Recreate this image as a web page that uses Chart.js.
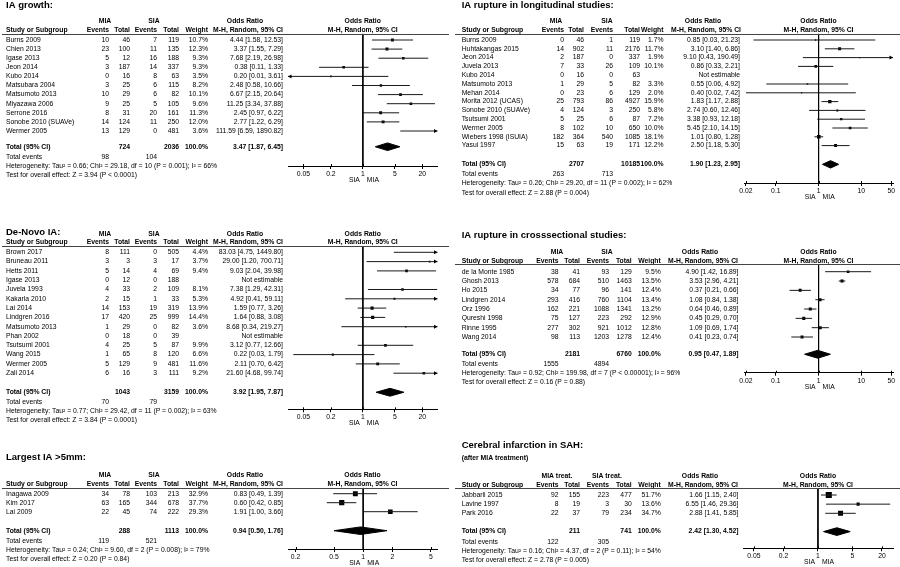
<!DOCTYPE html>
<html>
<head>
<meta charset="utf-8">
<script src="https://cdn.jsdelivr.net/npm/chart.js@4.4.1/dist/chart.umd.min.js"></script>
<style>
  html, body { margin: 0; padding: 0; background: #fff; }
  #wrap { position: relative; width: 900px; height: 567px; overflow: hidden; }
  #wrap canvas { position: absolute; left: 0; top: 0; }
</style>
</head>
<body>
<div id="wrap">
  <canvas id="growth" width="900" height="567"></canvas>
  <canvas id="longi" width="900" height="567"></canvas>
  <canvas id="denovo" width="900" height="567"></canvas>
  <canvas id="cross" width="900" height="567"></canvas>
  <canvas id="largest" width="900" height="567"></canvas>
  <canvas id="infarct" width="900" height="567"></canvas>
</div>
<script>
const FONT = "'Liberation Sans', Arial, Helvetica, sans-serif";

// axis ticks
const ticksWide = [0.05, 0.2, 1, 5, 20];
const ticksLong = [0.02, 0.1, 1, 10, 50];
const ticksNarrow = [0.2, 0.5, 1, 2, 5];

// IA growth
const growthStudies = ['Burns 2009', 'Chien 2013', 'Igase 2013', 'Jeon 2014', 'Kubo 2014', 'Matsubara 2004', 'Matsumoto 2013', 'Miyazawa 2006', 'Serrone 2016', 'Sonobe 2010 (SUAVe)', 'Wermer 2005'];
const growthMiaEvents = [10, 23, 5, 3, 0, 3, 10, 9, 8, 14, 13];
const growthMiaTotal = [46, 100, 12, 187, 16, 25, 29, 25, 31, 124, 129];
const growthSiaEvents = [7, 11, 16, 14, 8, 6, 6, 5, 20, 11, 0];
const growthSiaTotal = [119, 135, 188, 337, 63, 115, 82, 105, 161, 250, 481];
const growthWeight = [10.7, 12.3, 9.3, 9.3, 3.5, 8.2, 10.1, 9.6, 11.3, 12.0, 3.6];
const growthOR = [4.44, 3.37, 7.68, 0.38, 0.20, 2.48, 6.67, 11.25, 2.45, 2.77, 111.59];
const growthLow = [1.58, 1.55, 2.19, 0.11, 0.01, 0.58, 2.15, 3.34, 0.97, 1.22, 6.59];
const growthHigh = [12.53, 7.29, 26.98, 1.33, 3.61, 10.66, 20.64, 37.88, 6.22, 6.29, 1890.82];
const growthPooled = [3.47, 1.87, 6.45];
const growthSums = [724, 2036, 98, 104];
const growthHet = 'Heterogeneity: Tau² = 0.66; Chi² = 29.18, df = 10 (P = 0.001); I² = 66%';
const growthTest = 'Test for overall effect: Z = 3.94 (P < 0.0001)';

// IA rupture, longitudinal
const longiStudies = ['Burns 2009', 'Huhtakangas 2015', 'Jeon 2014', 'Juvela 2013', 'Kubo 2014', 'Matsumoto 2013', 'Mehan 2014', 'Morita 2012 (UCAS)', 'Sonobe 2010 (SUAVe)', 'Tsutsumi 2001', 'Wermer 2005', 'Wiebers 1998 (ISUIA)', 'Yasui 1997'];
const longiMiaEvents = [0, 14, 2, 7, 0, 1, 0, 25, 4, 5, 8, 182, 15];
const longiMiaTotal = [46, 902, 187, 33, 16, 29, 23, 793, 124, 25, 102, 364, 63];
const longiSiaEvents = [1, 11, 0, 26, 0, 5, 6, 86, 3, 6, 10, 540, 19];
const longiSiaTotal = [119, 2176, 337, 109, 63, 82, 129, 4927, 250, 87, 650, 1085, 171];
const longiWeight = [1.7, 11.7, 1.9, 10.1, null, 3.3, 2.0, 15.9, 5.8, 7.2, 10.0, 18.1, 12.2];
const longiOR = [0.85, 3.10, 9.10, 0.86, null, 0.55, 0.40, 1.83, 2.74, 3.38, 5.45, 1.01, 2.50];
const longiLow = [0.03, 1.40, 0.43, 0.33, null, 0.06, 0.02, 1.17, 0.60, 0.93, 2.10, 0.80, 1.18];
const longiHigh = [21.23, 6.86, 190.49, 2.21, null, 4.92, 7.42, 2.88, 12.46, 12.18, 14.15, 1.28, 5.30];
const longiPooled = [1.90, 1.23, 2.95];
const longiSums = [2707, 10185, 263, 713];
const longiHet = 'Heterogeneity: Tau² = 0.26; Chi² = 29.20, df = 11 (P = 0.002); I² = 62%';
const longiTest = 'Test for overall effect: Z = 2.88 (P = 0.004)';

// De-Novo IA
const denovoStudies = ['Brown 2017', 'Bruneau 2011', 'Hetts 2011', 'Igase 2013', 'Juvela 1993', 'Kakarla 2010', 'Lai 2014', 'Lindgren 2016', 'Matsumoto 2013', 'Phan 2002', 'Tsutsumi 2001', 'Wang 2015', 'Wermer 2005', 'Zali 2014'];
const denovoMiaEvents = [8, 3, 5, 0, 4, 2, 14, 17, 1, 0, 4, 1, 5, 6];
const denovoMiaTotal = [111, 3, 14, 12, 33, 15, 153, 420, 29, 18, 25, 65, 129, 16];
const denovoSiaEvents = [0, 3, 4, 0, 2, 1, 19, 25, 0, 0, 5, 8, 9, 3];
const denovoSiaTotal = [505, 17, 69, 188, 109, 33, 319, 999, 82, 39, 87, 120, 481, 111];
const denovoWeight = [4.4, 3.7, 9.4, null, 8.1, 5.3, 13.9, 14.4, 3.6, null, 9.9, 6.6, 11.6, 9.2];
const denovoOR = [83.03, 29.00, 9.03, null, 7.38, 4.92, 1.59, 1.64, 8.68, null, 3.12, 0.22, 2.11, 21.60];
const denovoLow = [4.75, 1.20, 2.04, null, 1.29, 0.41, 0.77, 0.88, 0.34, null, 0.77, 0.03, 0.70, 4.68];
const denovoHigh = [1449.80, 700.71, 39.98, null, 42.31, 59.11, 3.26, 3.08, 219.27, null, 12.66, 1.79, 6.42, 99.74];
const denovoPooled = [3.92, 1.95, 7.87];
const denovoSums = [1043, 3159, 70, 79];
const denovoHet = 'Heterogeneity: Tau² = 0.77; Chi² = 29.42, df = 11 (P = 0.002); I² = 63%';
const denovoTest = 'Test for overall effect: Z = 3.84 (P = 0.0001)';

// IA rupture, cross-sectional
const crossStudies = ['de la Monte 1985', 'Ghosh 2013', 'Ho 2015', 'Lindgren 2014', 'Orz 1996', 'Qureshi 1998', 'Rinne 1995', 'Wang 2014'];
const crossMiaEvents = [38, 578, 34, 293, 162, 75, 277, 98];
const crossMiaTotal = [41, 684, 77, 416, 221, 127, 302, 113];
const crossSiaEvents = [93, 510, 96, 760, 1088, 223, 921, 1203];
const crossSiaTotal = [129, 1463, 141, 1104, 1341, 292, 1012, 1278];
const crossWeight = [9.5, 13.5, 12.4, 13.4, 13.2, 12.9, 12.8, 12.4];
const crossOR = [4.90, 3.53, 0.37, 1.08, 0.64, 0.45, 1.09, 0.41];
const crossLow = [1.42, 2.96, 0.21, 0.84, 0.46, 0.29, 0.69, 0.23];
const crossHigh = [16.89, 4.21, 0.66, 1.38, 0.89, 0.70, 1.74, 0.74];
const crossPooled = [0.95, 0.47, 1.89];
const crossSums = [2181, 6760, 1555, 4894];
const crossHet = 'Heterogeneity: Tau² = 0.92; Chi² = 199.98, df = 7 (P < 0.00001); I² = 96%';
const crossTest = 'Test for overall effect: Z = 0.16 (P = 0.88)';

// Largest IA >5mm
const largestStudies = ['Inagawa 2009', 'Kim 2017', 'Lai 2009'];
const largestMiaEvents = [34, 63, 22];
const largestMiaTotal = [78, 165, 45];
const largestSiaEvents = [103, 344, 74];
const largestSiaTotal = [213, 678, 222];
const largestWeight = [32.9, 37.7, 29.3];
const largestOR = [0.83, 0.60, 1.91];
const largestLow = [0.49, 0.42, 1.00];
const largestHigh = [1.39, 0.85, 3.66];
const largestPooled = [0.94, 0.50, 1.76];
const largestSums = [288, 1113, 119, 521];
const largestHet = 'Heterogeneity: Tau² = 0.24; Chi² = 9.60, df = 2 (P = 0.008); I² = 79%';
const largestTest = 'Test for overall effect: Z = 0.20 (P = 0.84)';

// Cerebral infarction in SAH
const infarctStudies = ['Jabbarli 2015', 'Lavine 1997', 'Park 2016'];
const infarctMiaEvents = [92, 8, 22];
const infarctMiaTotal = [155, 19, 37];
const infarctSiaEvents = [223, 3, 79];
const infarctSiaTotal = [477, 30, 234];
const infarctWeight = [51.7, 13.6, 34.7];
const infarctOR = [1.66, 6.55, 2.88];
const infarctLow = [1.15, 1.46, 1.41];
const infarctHigh = [2.40, 29.36, 5.85];
const infarctPooled = [2.42, 1.30, 4.52];
const infarctSums = [211, 741, 122, 305];
const infarctHet = 'Heterogeneity: Tau² = 0.16; Chi² = 4.37, df = 2 (P = 0.11); I² = 54%';
const infarctTest = 'Test for overall effect: Z = 2.78 (P = 0.005)';

// column positions (px)
const colsLeft = { study: 6, ev1: 109, tot1: 130, ev2: 157, tot2: 179, w: 208, or: 283, g1: 105, g2: 154, orC: 248 };
const colsRight = { study: 461.7, ev1: 558.5, tot1: 580, ev2: 609, tot2: 631.7, w: 660.7, or: 738.5, g1: 557, g2: 607, orC: 703 };
const colsLongi = { study: 461.7, ev1: 564, tot1: 584, ev2: 613, tot2: 640, w: 663.5, or: 740, g1: 556, g2: 607, orC: 706 };

function orText(o, l, h) {
    if (o == null) return 'Not estimable';
    return o.toFixed(2) + ' [' + l.toFixed(2) + ', ' + h.toFixed(2) + ']';
}

function tablePlugin(d, lay) {
    return {
        id: 'table_' + lay.key,
        afterDraw(chart) {
            const ctx = chart.ctx;
            const ys = chart.scales.y;
            const xs = chart.scales.x;
            const c = lay.cols;
            const n = d.studies.length;
            const totalRow = n + lay.totalGap;
            const reg = '6.8px ' + FONT;
            const bold = 'bold 6.8px ' + FONT;

            ctx.save();
            ctx.fillStyle = '#000';
            ctx.textBaseline = 'middle';

            const txt = (s, x, y, align, font) => {
                ctx.font = font || reg;
                ctx.textAlign = align || 'left';
                ctx.fillText(s, x, y);
            };

            // title
            txt(lay.title, c.study, lay.titleY, 'left', 'bold 9.5px ' + FONT);
            if (lay.sub) txt(lay.sub, c.study, lay.subY, 'left', 'bold 6.8px ' + FONT);

            // header
            const h1 = lay.headY - 12.3, h2 = lay.headY - 3.6;
            const plotC = (xs.left + xs.right) / 2;
            txt(d.groups[0], c.g1, h1, 'center', bold);
            txt(d.groups[1], c.g2, h1, 'center', bold);
            txt('Odds Ratio', c.orC - 3, h1, 'center', bold);
            txt('Odds Ratio', plotC, h1, 'center', bold);
            txt('Study or Subgroup', c.study, h2, 'left', bold);
            txt('Events', c.ev1, h2, 'right', bold);
            txt('Total', c.tot1, h2, 'right', bold);
            txt('Events', c.ev2, h2, 'right', bold);
            txt('Total', c.tot2, h2, 'right', bold);
            txt('Weight', c.w, h2, 'right', bold);
            txt('M-H, Random, 95% CI', c.orC, h2, 'center', bold);
            txt('M-H, Random, 95% CI', plotC, h2, 'center', bold);

            ctx.strokeStyle = '#444';
            ctx.lineWidth = 1;
            ctx.beginPath();
            ctx.moveTo(lay.lineL, Math.round(lay.headY) + 0.5);
            ctx.lineTo(lay.lineR, Math.round(lay.headY) + 0.5);
            ctx.stroke();

            // tick marks also reach a little above the axis line
            ctx.strokeStyle = '#000';
            ctx.beginPath();
            lay.ticks.forEach(v => {
                const px = Math.round(xs.getPixelForValue(v)) + 0.5;
                ctx.moveTo(px, xs.top - 2);
                ctx.lineTo(px, xs.top);
            });
            ctx.stroke();

            // study rows
            d.studies.forEach((s, i) => {
                const y = ys.getPixelForValue(i);
                txt(s, c.study, y);
                txt(String(d.miaEv[i]), c.ev1, y, 'right');
                txt(String(d.miaTot[i]), c.tot1, y, 'right');
                txt(String(d.siaEv[i]), c.ev2, y, 'right');
                txt(String(d.siaTot[i]), c.tot2, y, 'right');
                if (d.weight[i] != null) txt(d.weight[i].toFixed(1) + '%', c.w, y, 'right');
                txt(orText(d.or[i], d.low[i], d.high[i]), c.or, y, 'right');

                // arrows for intervals running off the axis
                ctx.beginPath();
                if (d.low[i] != null && d.low[i] < xs.min) {
                    ctx.moveTo(xs.left, y);
                    ctx.lineTo(xs.left + 3.5, y - 2);
                    ctx.lineTo(xs.left + 3.5, y + 2);
                }
                if (d.high[i] != null && d.high[i] > xs.max) {
                    ctx.moveTo(xs.right, y);
                    ctx.lineTo(xs.right - 3.5, y - 2);
                    ctx.lineTo(xs.right - 3.5, y + 2);
                }
                ctx.closePath();
                ctx.fill();
            });

            // totals
            const ty = ys.getPixelForValue(totalRow);
            txt('Total (95% CI)', c.study, ty, 'left', bold);
            txt(String(d.sums[0]), c.tot1, ty, 'right', bold);
            txt(String(d.sums[1]), c.tot2, ty, 'right', bold);
            txt('100.0%', c.w, ty, 'right', bold);
            txt(orText(d.pooled[0], d.pooled[1], d.pooled[2]), c.or, ty, 'right', bold);
            txt('Total events', c.study, ty + 10.2);
            txt(String(d.sums[2]), c.ev1, ty + 10.2, 'right');
            txt(String(d.sums[3]), c.ev2, ty + 10.2, 'right');
            txt(d.het, c.study, ty + 19.1);
            txt(d.test, c.study, ty + 28.3);

            // favours labels
            const x1 = xs.getPixelForValue(1);
            txt('SIA', x1 - 3, lay.axisY + 14, 'right');
            txt('MIA', x1 + 4, lay.axisY + 14, 'left');
            ctx.restore();
        }
    };
}

function forest(d, lay) {
    const n = d.studies.length;
    const totalRow = n + lay.totalGap;
    const yMin = -(lay.firstY - lay.headY) / lay.step;
    const yMax = (lay.axisY - lay.firstY) / lay.step;

    const datasets = [];
    // line of no effect
    datasets.push({ data: [{ x: 1, y: yMin }, { x: 1, y: yMax }], borderColor: '#000', borderWidth: 1, pointRadius: 0 });
    // confidence intervals
    d.low.forEach((lo, i) => {
        if (lo == null) return;
        datasets.push({ data: [{ x: lo, y: i }, { x: d.high[i], y: i }], borderColor: '#1a1a1a', borderWidth: 1, pointRadius: 0 });
    });
    // study squares, area ~ weight
    datasets.push({
        data: d.or.map((v, i) => ({ x: v == null ? 1 : v, y: v == null ? null : i })),
        showLine: false,
        pointStyle: 'rect',
        pointRadius: d.weight.map(w => w == null ? 0 : Math.max(0.9, 0.85 * Math.sqrt(w) / Math.SQRT2)),
        pointBackgroundColor: '#000',
        pointBorderWidth: 0
    });
    // pooled diamond
    const [po, pl, ph] = d.pooled;
    datasets.push({ data: [{ x: pl, y: totalRow }, { x: po, y: totalRow - 0.42 }, { x: ph, y: totalRow }], borderColor: '#000', borderWidth: 1, pointRadius: 0, fill: false, tension: 0 });
    datasets.push({ data: [{ x: pl, y: totalRow }, { x: po, y: totalRow + 0.42 }, { x: ph, y: totalRow }], borderColor: '#000', borderWidth: 1, pointRadius: 0, fill: '-1', backgroundColor: '#000', tension: 0 });

    const ctx = document.getElementById(lay.key).getContext('2d');
    return new Chart(ctx, {
        type: 'line',
        data: { datasets: datasets },
        options: {
            responsive: false,
            animation: false,
            events: [],
            layout: { padding: { left: lay.plotL, right: 900 - lay.plotR, top: lay.headY, bottom: 567 - lay.axisY - 12 } },
            plugins: { legend: { display: false }, tooltip: { enabled: false }, title: { display: false } },
            scales: {
                x: {
                    type: 'logarithmic',
                    min: lay.min,
                    max: lay.max,
                    afterFit: s => { s.height = 12; },
                    afterBuildTicks: s => { s.ticks = lay.ticks.map(v => ({ value: v })); },
                    ticks: {
                        autoSkip: false,
                        maxRotation: 0,
                        padding: 1,
                        color: '#000',
                        font: { family: FONT, size: 6.8 },
                        callback: v => String(v)
                    },
                    grid: { drawOnChartArea: false, tickLength: 3, color: '#000' },
                    border: { color: '#000', width: 1 }
                },
                y: { type: 'linear', reverse: true, min: yMin, max: yMax, display: false }
            }
        },
        plugins: [tablePlugin(d, lay)]
    });
}

const groupsMain = ['MIA', 'SIA'];

forest({
    studies: growthStudies, miaEv: growthMiaEvents, miaTot: growthMiaTotal, siaEv: growthSiaEvents, siaTot: growthSiaTotal,
    weight: growthWeight, or: growthOR, low: growthLow, high: growthHigh, pooled: growthPooled, sums: growthSums,
    het: growthHet, test: growthTest, groups: groupsMain
}, { key: 'growth', title: 'IA growth:', titleY: 5, headY: 33.7, firstY: 40, step: 9.1, totalGap: 0.73, axisY: 166,
     plotL: 288, plotR: 437.5, min: 0.023, max: 43, ticks: ticksWide, cols: colsLeft, lineL: 2, lineR: 449 });

forest({
    studies: longiStudies, miaEv: longiMiaEvents, miaTot: longiMiaTotal, siaEv: longiSiaEvents, siaTot: longiSiaTotal,
    weight: longiWeight, or: longiOR, low: longiLow, high: longiHigh, pooled: longiPooled, sums: longiSums,
    het: longiHet, test: longiTest, groups: groupsMain
}, { key: 'longi', title: 'IA rupture in longitudinal studies:', titleY: 5, headY: 33.7, firstY: 40, step: 8.8, totalGap: 1.13, axisY: 183,
     plotL: 744, plotR: 893, min: 0.018, max: 55, ticks: ticksLong, cols: colsLongi, lineL: 455, lineR: 900 });

forest({
    studies: denovoStudies, miaEv: denovoMiaEvents, miaTot: denovoMiaTotal, siaEv: denovoSiaEvents, siaTot: denovoSiaTotal,
    weight: denovoWeight, or: denovoOR, low: denovoLow, high: denovoHigh, pooled: denovoPooled, sums: denovoSums,
    het: denovoHet, test: denovoTest, groups: groupsMain
}, { key: 'denovo', title: 'De-Novo IA:', titleY: 232.7, headY: 246, firstY: 252.3, step: 9.3, totalGap: 1.05, axisY: 409.3,
     plotL: 288, plotR: 437.5, min: 0.023, max: 43, ticks: ticksWide, cols: colsLeft, lineL: 2, lineR: 449 });

forest({
    studies: crossStudies, miaEv: crossMiaEvents, miaTot: crossMiaTotal, siaEv: crossSiaEvents, siaTot: crossSiaTotal,
    weight: crossWeight, or: crossOR, low: crossLow, high: crossHigh, pooled: crossPooled, sums: crossSums,
    het: crossHet, test: crossTest, groups: groupsMain
}, { key: 'cross', title: 'IA rupture in crosssectional studies:', titleY: 235, headY: 264.3, firstY: 271.7, step: 9.33, totalGap: 0.85, axisY: 372.7,
     plotL: 744, plotR: 893, min: 0.018, max: 55, ticks: ticksLong, cols: colsRight, lineL: 455, lineR: 900 });

forest({
    studies: largestStudies, miaEv: largestMiaEvents, miaTot: largestMiaTotal, siaEv: largestSiaEvents, siaTot: largestSiaTotal,
    weight: largestWeight, or: largestOR, low: largestLow, high: largestHigh, pooled: largestPooled, sums: largestSums,
    het: largestHet, test: largestTest, groups: groupsMain
}, { key: 'largest', title: 'Largest IA >5mm:', titleY: 457.3, headY: 487.7, firstY: 493.7, step: 9, totalGap: 1.11, axisY: 549,
     plotL: 288, plotR: 437, min: 0.167, max: 5.8, ticks: ticksNarrow, cols: colsLeft, lineL: 2, lineR: 449 });

forest({
    studies: infarctStudies, miaEv: infarctMiaEvents, miaTot: infarctMiaTotal, siaEv: infarctSiaEvents, siaTot: infarctSiaTotal,
    weight: infarctWeight, or: infarctOR, low: infarctLow, high: infarctHigh, pooled: infarctPooled, sums: infarctSums,
    het: infarctHet, test: infarctTest, groups: ['MIA treat.', 'SIA treat.']
}, { key: 'infarct', title: 'Cerebral infarction in SAH:', sub: '(after MIA treatment)', titleY: 445, subY: 457.7, headY: 488.3, firstY: 495, step: 9.15, totalGap: 1.0, axisY: 548.3,
     plotL: 743, plotR: 893, min: 0.03, max: 33.5, ticks: ticksWide, cols: colsRight, lineL: 455, lineR: 900 });
</script>
</body>
</html>
